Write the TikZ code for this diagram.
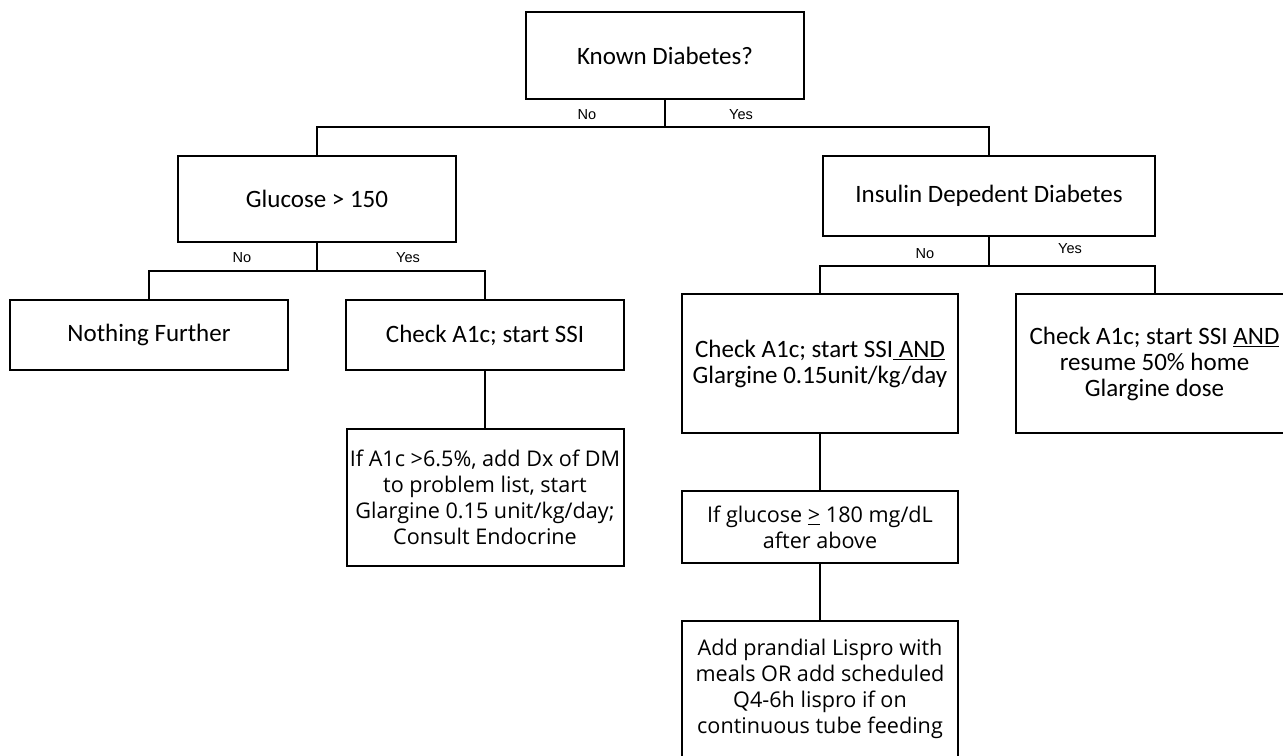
\documentclass[tikz,border=0pt]{standalone}
\usepackage{fontspec}
\setmainfont{Carlito}
\newfontfamily\lowfont{Open Sans}
\newfontfamily\labfont{Liberation Sans}
\begin{document}
\begin{tikzpicture}[x=0.75pt,y=-0.75pt,
  sz/.style 2 args={minimum width=#1*0.75pt, minimum height=#2*0.75pt},
  box/.style={draw, line width=1.5pt, inner sep=0pt, align=center, font=\fontsize{18.75}{19.5}\selectfont},
  lowbox/.style={box, font=\lowfont\fontsize{16.2}{19.6}\selectfont},
  lab/.style={inner sep=0pt, font=\labfont\fontsize{10.9}{12}\selectfont},
  conn/.style={line width=1.5pt}]
\useasboundingbox (0,0) rectangle (1283,756);
\fill[white] (0,0) rectangle (1283,756);
\clip (0,0) rectangle (1283,756);

\node[box, sz={278}{87}] (known) at (665,55.5) {Known Diabetes?};
\node[box, sz={278}{86}] (glucose) at (317,199) {Glucose > 150};
\node[box, sz={332}{80}] (insulin) at (989,196) {Insulin Depedent Diabetes};
\node[box, sz={278}{70}] (nothing) at (149,335) {Nothing Further};
\node[box, sz={278}{70}] (checkL) at (485,335) {Check A1c; start SSI};
\node[lowbox, sz={277}{137}] (ifa1c) at (485,497.5) {If A1c >6.5\%, add Dx of DM\\to problem list, start\\Glargine 0.15 unit/kg/day;\\Consult Endocrine};
\node[box, sz={276}{139}] (checkM) at (820,363.5) {Check A1c; start SSI\underline{ AND}\\Glargine 0.15unit/kg/day};
\node[box, sz={277}{139}] (checkR) at (1154.5,363.5) {Check A1c; start SSI \underline{AND}\\resume 50\% home\\Glargine dose};
\node[lowbox, sz={276}{72}] (ifglu) at (820,527) {If glucose \underline{>} 180 mg/dL\\after above};
\node[lowbox, sz={276}{136}] (addpr) at (820,689) {Add prandial Lispro with\\meals OR add scheduled\\Q4-6h lispro if on\\continuous tube feeding};

\coordinate (j1) at (665,127);
\coordinate (j2) at (317,271);
\coordinate (j3) at (989,266);
\draw[conn] (known.south) -- (j1);
\draw[conn] (glucose.north) |- (j1) -| (insulin.north);
\draw[conn] (glucose.south) -- (j2);
\draw[conn] (nothing.north) |- (j2) -| (checkL.north);
\draw[conn] (insulin.south) -- (j3);
\draw[conn] (checkM.north) |- (j3) -| (checkR.north);
\draw[conn] (checkL.south) -- (ifa1c.north);
\draw[conn] (checkM.south) -- (ifglu.north);
\draw[conn] (ifglu.south) -- (addpr.north);

\node[lab] (no1) at (587,115) {No};
\node[lab] (yes1) at (741,115) {Yes};
\node[lab] (no2) at (242,258) {No};
\node[lab] (yes2) at (408,258) {Yes};
\node[lab] (no3) at (925,254) {No};
\node[lab] (yes3) at (1070,249) {Yes};
\end{tikzpicture}
\end{document}
